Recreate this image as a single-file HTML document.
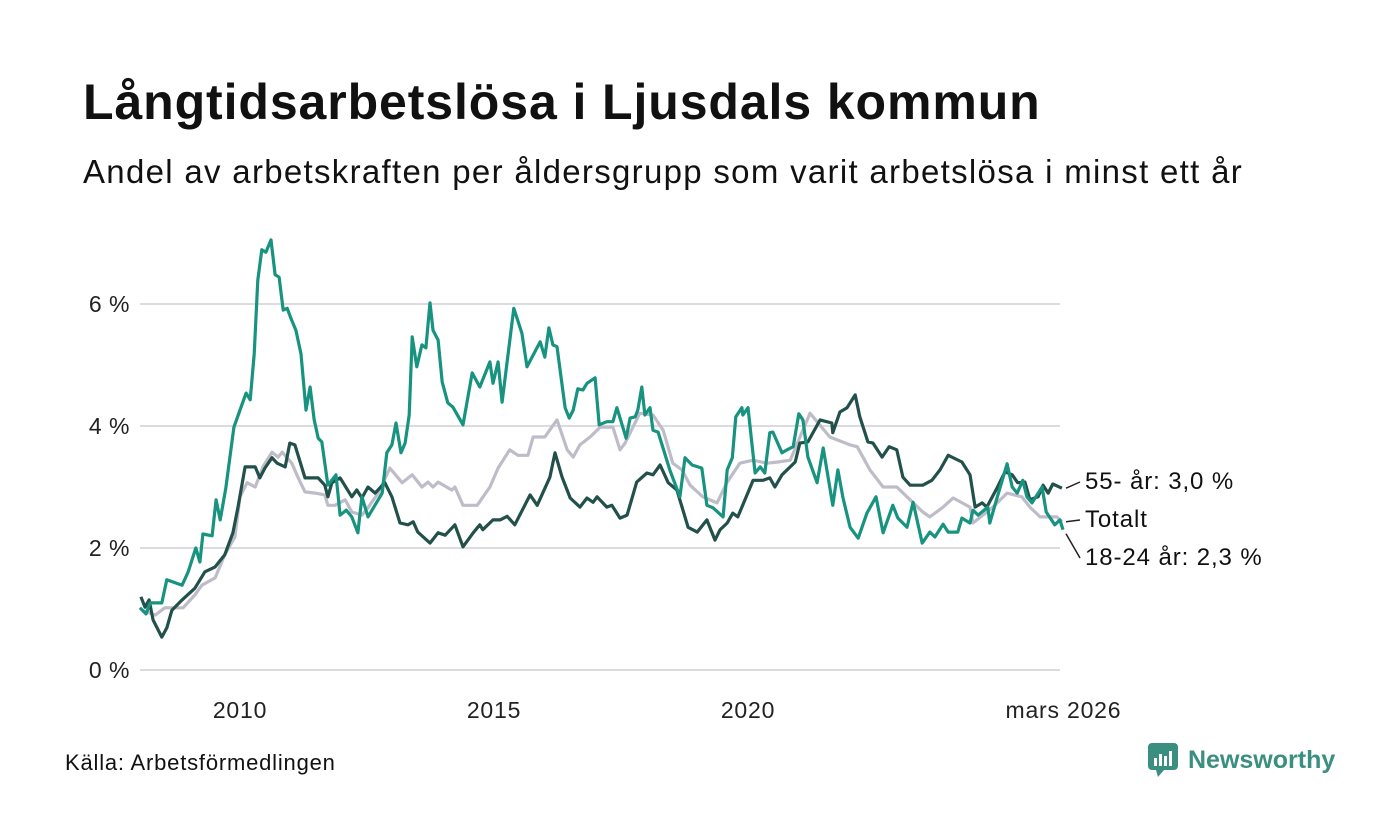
<!DOCTYPE html>
<html><head><meta charset="utf-8">
<style>
html,body{margin:0;padding:0;background:#fff;}
body{width:1400px;height:840px;overflow:hidden;font-family:"Liberation Sans",sans-serif;color:#111;position:relative;}
#title{position:absolute;left:83px;top:73px;font-size:50px;font-weight:bold;margin:0;letter-spacing:0.9px;}
#subtitle{position:absolute;left:83px;top:153px;font-size:33px;margin:0;letter-spacing:1.3px;}
#source{position:absolute;left:65px;top:750px;font-size:22px;letter-spacing:0.8px;}
#logo{position:absolute;left:1148px;top:743px;display:flex;align-items:center;color:#3a8f80;font-weight:bold;font-size:25px;}
</style></head>
<body>
<h1 id="title">Långtidsarbetslösa i Ljusdals kommun</h1>
<p id="subtitle">Andel av arbetskraften per åldersgrupp som varit arbetslösa i minst ett år</p>
<svg id="chart" width="1400" height="840" style="position:absolute;left:0;top:0" xmlns="http://www.w3.org/2000/svg"></svg>
<div id="source">Källa: Arbetsförmedlingen</div>
<div id="logo">
<svg width="32" height="34" viewBox="0 0 32 34"><rect x="0" y="0" width="30" height="27" rx="4" fill="#3a8f80"/><polygon points="8,27 16,27 10,34" fill="#3a8f80"/><rect x="6" y="15" width="3" height="8" fill="#fff"/><rect x="11" y="11" width="3" height="12" fill="#fff"/><rect x="16" y="13" width="3" height="10" fill="#fff"/><rect x="21" y="8" width="3" height="15" fill="#fff"/></svg>
<span style="margin-left:8px">Newsworthy</span></div>
<script>
const yTicks=[0,2,4,6];
const yTickLabels=["0 %","2 %","4 %","6 %"];
const xTicks=[2010,2015,2020,2026.17];
const xTickLabels=["2010","2015","2020","mars 2026"];
const youthDates=[2008.03,2008.15,2008.23,2008.46,2008.56,2008.86,2008.98,2009.13,2009.21,2009.27,2009.45,2009.53,2009.61,2009.72,2009.88,2010.00,2010.12,2010.20,2010.28,2010.35,2010.43,2010.51,2010.61,2010.69,2010.77,2010.85,2010.93,2011.00,2011.10,2011.20,2011.30,2011.38,2011.46,2011.54,2011.61,2011.73,2011.89,2011.97,2012.09,2012.20,2012.32,2012.40,2012.52,2012.80,2012.89,2012.99,2013.07,2013.17,2013.25,2013.33,2013.39,2013.48,2013.58,2013.66,2013.74,2013.80,2013.90,2013.98,2014.09,2014.19,2014.39,2014.57,2014.72,2014.92,2014.98,2015.08,2015.16,2015.39,2015.55,2015.65,2015.91,2016.00,2016.08,2016.16,2016.24,2016.40,2016.48,2016.56,2016.65,2016.75,2016.83,2016.99,2017.07,2017.22,2017.34,2017.42,2017.54,2017.60,2017.68,2017.78,2017.83,2017.91,2017.97,2018.07,2018.13,2018.23,2018.46,2018.66,2018.76,2018.90,2019.09,2019.19,2019.31,2019.51,2019.59,2019.69,2019.76,2019.88,2019.90,2020.00,2020.14,2020.24,2020.33,2020.43,2020.49,2020.67,2020.77,2020.89,2021.00,2021.08,2021.18,2021.36,2021.48,2021.67,2021.77,2021.87,2022.01,2022.17,2022.34,2022.52,2022.66,2022.85,2022.95,2023.13,2023.25,2023.43,2023.58,2023.68,2023.84,2023.94,2024.13,2024.21,2024.37,2024.43,2024.53,2024.72,2024.76,2024.92,2025.10,2025.20,2025.30,2025.41,2025.49,2025.59,2025.79,2025.87,2026.04,2026.14,2026.20];
const youthValues=[1.02,0.92,1.10,1.10,1.48,1.39,1.61,2.00,1.77,2.23,2.20,2.79,2.46,2.98,3.98,4.26,4.54,4.43,5.18,6.39,6.89,6.85,7.05,6.48,6.44,5.90,5.93,5.77,5.57,5.18,4.26,4.64,4.10,3.80,3.74,3.03,3.20,2.54,2.62,2.51,2.25,2.84,2.51,2.90,3.56,3.69,4.05,3.56,3.72,4.18,5.46,4.97,5.33,5.28,6.02,5.57,5.41,4.72,4.38,4.31,4.02,4.87,4.64,5.05,4.70,5.05,4.39,5.93,5.52,4.97,5.38,5.13,5.61,5.33,5.30,4.30,4.13,4.26,4.61,4.59,4.70,4.79,4.02,4.07,4.07,4.30,3.97,3.80,4.13,4.15,4.26,4.64,4.18,4.30,3.93,3.90,3.28,2.84,3.48,3.36,3.31,2.70,2.66,2.51,3.28,3.48,4.15,4.30,4.18,4.30,3.23,3.33,3.23,3.89,3.90,3.56,3.61,3.66,4.20,4.10,3.49,3.07,3.64,2.70,3.28,2.82,2.34,2.16,2.57,2.84,2.25,2.70,2.49,2.34,2.75,2.08,2.26,2.18,2.39,2.26,2.26,2.49,2.41,2.62,2.54,2.67,2.41,2.87,3.38,3.00,2.90,3.11,2.84,2.74,3.00,2.59,2.38,2.46,2.30];
const totalDates=[2008.07,2008.33,2008.52,2008.88,2009.11,2009.25,2009.51,2009.70,2009.90,2010.00,2010.14,2010.30,2010.45,2010.63,2010.75,2010.83,2011.02,2011.14,2011.28,2011.48,2011.67,2011.73,2011.87,2012.07,2012.20,2012.40,2012.52,2012.72,2012.95,2013.19,2013.39,2013.58,2013.70,2013.80,2013.90,2014.17,2014.23,2014.39,2014.67,2014.92,2015.08,2015.31,2015.47,2015.67,2015.77,2016.00,2016.24,2016.44,2016.56,2016.69,2016.89,2017.09,2017.34,2017.48,2017.58,2017.87,2018.13,2018.33,2018.52,2018.70,2018.86,2019.11,2019.39,2019.59,2019.84,2020.10,2020.37,2020.59,2020.83,2021.22,2021.61,2022.01,2022.15,2022.40,2022.66,2022.93,2023.19,2023.44,2023.58,2023.84,2024.04,2024.37,2024.43,2024.82,2025.10,2025.39,2025.55,2025.75,2026.08,2026.18];
const totalValues=[0.98,0.90,1.02,1.02,1.23,1.39,1.51,1.89,2.18,2.84,3.07,3.00,3.33,3.57,3.49,3.57,3.39,3.16,2.92,2.90,2.87,2.70,2.70,2.79,2.59,2.54,2.66,2.90,3.31,3.07,3.20,3.00,3.08,3.00,3.08,2.95,3.00,2.70,2.70,3.00,3.31,3.61,3.52,3.52,3.82,3.82,4.10,3.61,3.49,3.69,3.82,3.98,3.98,3.61,3.72,4.21,4.18,3.93,3.39,3.28,3.03,2.84,2.74,3.08,3.39,3.44,3.39,3.41,3.44,4.21,3.82,3.69,3.66,3.28,3.00,3.00,2.79,2.59,2.51,2.67,2.82,2.67,2.41,2.67,2.90,2.84,2.67,2.51,2.51,2.43];
const olderDates=[2008.05,2008.13,2008.21,2008.29,2008.46,2008.56,2008.66,2008.86,2009.11,2009.31,2009.51,2009.70,2009.86,2009.96,2010.10,2010.30,2010.39,2010.49,2010.63,2010.73,2010.89,2010.98,2011.08,2011.28,2011.54,2011.67,2011.73,2011.81,2011.97,2012.20,2012.30,2012.40,2012.52,2012.66,2012.85,2012.99,2013.15,2013.31,2013.41,2013.50,2013.74,2013.90,2014.04,2014.23,2014.39,2014.59,2014.72,2014.78,2014.98,2015.12,2015.26,2015.41,2015.71,2015.85,2016.10,2016.20,2016.34,2016.50,2016.69,2016.83,2016.95,2017.03,2017.22,2017.32,2017.48,2017.62,2017.81,2018.01,2018.13,2018.27,2018.43,2018.60,2018.82,2019.00,2019.19,2019.35,2019.45,2019.59,2019.70,2019.80,2019.88,2020.10,2020.30,2020.43,2020.53,2020.67,2020.93,2021.02,2021.18,2021.42,2021.65,2021.67,2021.81,2021.95,2022.11,2022.20,2022.36,2022.46,2022.64,2022.78,2022.93,2023.05,2023.19,2023.44,2023.62,2023.78,2023.94,2024.21,2024.37,2024.47,2024.61,2024.70,2024.90,2025.06,2025.20,2025.31,2025.45,2025.55,2025.71,2025.81,2025.91,2026.00,2026.18];
const olderValues=[1.20,1.03,1.15,0.82,0.54,0.69,0.98,1.15,1.34,1.61,1.69,1.89,2.25,2.67,3.33,3.33,3.15,3.31,3.48,3.39,3.33,3.72,3.69,3.15,3.15,3.03,2.84,3.07,3.15,2.84,2.95,2.82,3.00,2.90,3.07,2.84,2.41,2.38,2.43,2.26,2.08,2.25,2.21,2.38,2.02,2.25,2.38,2.30,2.46,2.46,2.52,2.38,2.87,2.70,3.16,3.56,3.16,2.82,2.67,2.82,2.75,2.84,2.67,2.70,2.49,2.54,3.08,3.23,3.20,3.36,3.07,2.95,2.34,2.26,2.46,2.13,2.30,2.41,2.57,2.51,2.67,3.11,3.11,3.15,3.00,3.20,3.41,3.72,3.74,4.10,4.05,3.89,4.23,4.30,4.51,4.15,3.74,3.72,3.49,3.66,3.61,3.16,3.03,3.03,3.11,3.28,3.52,3.41,3.20,2.67,2.74,2.67,2.98,3.25,3.20,3.07,3.08,2.79,2.84,3.03,2.90,3.05,2.98];

const NS="http://www.w3.org/2000/svg";
const svg=document.getElementById('chart');
const X0=140,Y0=670,PX_PER_PCT=61;
function xScale(yr){return 240+(yr-2010)*50.8;}
function yScale(v){return Y0-v*PX_PER_PCT;}
function mk(tag,attrs){const e=document.createElementNS(NS,tag);for(const k in attrs)e.setAttribute(k,attrs[k]);svg.appendChild(e);return e;}

yTicks.forEach((t,i)=>{
  const g=mk('line',{x1:X0,x2:1060,y1:yScale(t),y2:yScale(t),stroke:'#dcdce0','stroke-width':2});
  
  
  const tx=mk('text',{x:130,y:yScale(t)+8,'text-anchor':'end','font-size':23,'letter-spacing':0.5,fill:'#222','font-family':'Liberation Sans, sans-serif'});
  tx.textContent=yTickLabels[i];
  
  
});
xTicks.forEach((t,i)=>{
  const tx=mk('text',{x:xScale(t)+(i===3?2:0),y:718,'text-anchor':'middle','font-size':23,'letter-spacing':0.8,fill:'#222','font-family':'Liberation Sans, sans-serif'});
  tx.textContent=xTickLabels[i];
  
  
});
function line(dates,vals,color,name){
  const d=dates.map((t,i)=>(i?'L':'M')+xScale(t).toFixed(1)+','+yScale(vals[i]).toFixed(1)).join('');
  const p=mk('path',{d:d,fill:'none',stroke:color,'stroke-width':3.2,'stroke-linejoin':'round'});
  
  
  return p;
}
line(totalDates,totalValues,'#bfbcca','series-totalt');
line(olderDates,olderValues,'#22504a','series-55-plus');
line(youthDates,youthValues,'#17937f','series-18-24');

function label(txt,y,ly,name){
  const l=mk('line',{x1:1066,y1:ly,x2:1080,y2:y-7,stroke:'#222','stroke-width':1.5});
  
  
  const t=mk('text',{x:1085,y:y,'font-size':24,'letter-spacing':0.9,fill:'#111','font-family':'Liberation Sans, sans-serif'});
  t.textContent=txt;
  
  
}
const lastO=olderValues[olderValues.length-1],lastT=totalValues[totalValues.length-1],lastY=youthValues[youthValues.length-1];
label('55- år: 3,0 %',489,yScale(lastO),'label-55-plus');
label('Totalt',527,yScale(lastT),'label-totalt');
label('18-24 år: 2,3 %',565,yScale(lastY)+4,'label-18-24');
</script>
</body></html>
